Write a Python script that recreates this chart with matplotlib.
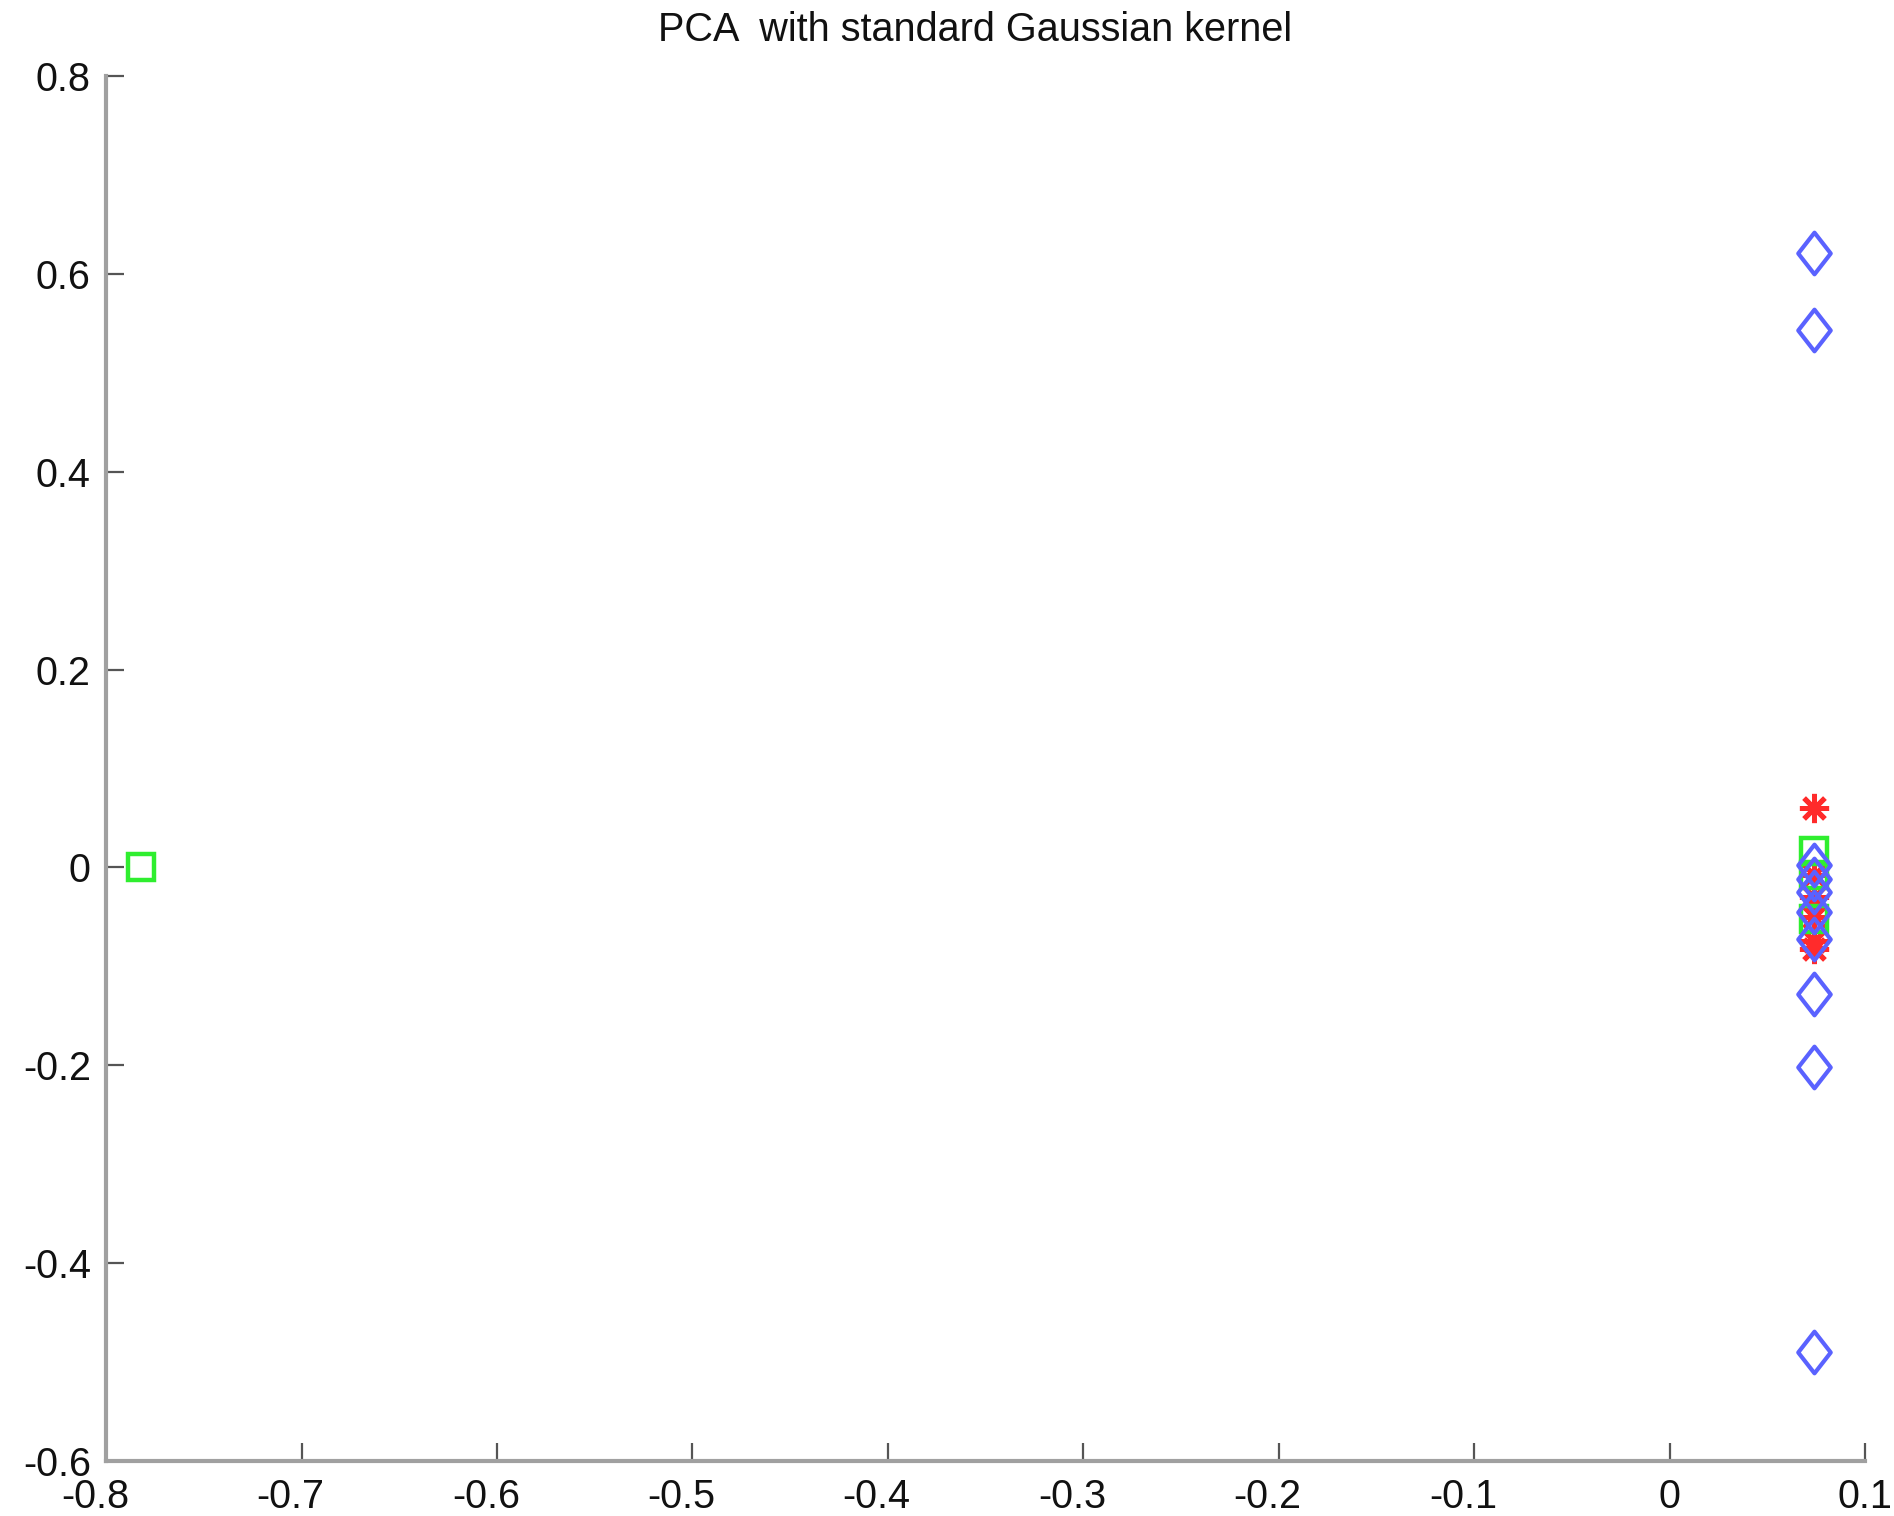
import matplotlib
matplotlib.use("Agg")
import matplotlib.pyplot as plt
import matplotlib.transforms as mtransforms
from matplotlib.path import Path

# Projections onto the first two kernel principal components, by class
diamond_x = [0.0737] * 10
diamond_y = [0.621, 0.543, 0.002, -0.012, -0.025, -0.045, -0.072, -0.128, -0.202, -0.490]

square_x = [-0.782, 0.0737, 0.0737, 0.0737]
square_y = [0.0, 0.017, -0.008, -0.052]

star_x = [0.0737] * 6
star_y = [0.060, -0.008, -0.030, -0.050, -0.074, -0.082]

x_ticks = [-0.8, -0.7, -0.6, -0.5, -0.4, -0.3, -0.2, -0.1, 0, 0.1]
y_ticks = [-0.6, -0.4, -0.2, 0, 0.2, 0.4, 0.6, 0.8]
title = "PCA  with standard Gaussian kernel"

plt.rcParams["font.family"] = ["Liberation Sans", "DejaVu Sans"]
plt.rcParams["axes.unicode_minus"] = False

fig = plt.figure(figsize=(18.94, 15.16), dpi=100)
ax = fig.add_axes([0.056, 0.0363, 0.9287, 0.9136])

# MATLAB-style diamond (narrower than a rotated square)
diamond = Path([(0, 1), (0.78, 0), (0, -1), (-0.78, 0), (0, 1)],
               [Path.MOVETO, Path.LINETO, Path.LINETO, Path.LINETO, Path.CLOSEPOLY])

green = "#2fee2f"
blue = "#5a62ff"
red = "#ff2b2b"

ax.plot(star_x, star_y, linestyle="none", marker=(8, 2, 0), markersize=21,
        markerfacecolor="none", markeredgecolor=red, markeredgewidth=3.6, zorder=2)
ax.plot(square_x, square_y, linestyle="none", marker="s", markersize=19,
        markerfacecolor="none", markeredgecolor=green, markeredgewidth=3.2, zorder=3)
ax.plot(diamond_x, diamond_y, linestyle="none", marker=diamond, markersize=30,
        markerfacecolor="none", markeredgecolor=blue, markeredgewidth=3.0, zorder=4)

ax.set_xlim(-0.8, 0.1)
ax.set_ylim(-0.6, 0.8)
ax.set_xticks(x_ticks)
ax.set_xticklabels([f"{v:g}" for v in x_ticks])
ax.set_yticks(y_ticks)
ax.set_yticklabels([f"{v:g}" for v in y_ticks])

for side in ("top", "right"):
    ax.spines[side].set_visible(False)
for side in ("left", "bottom"):
    ax.spines[side].set_color("#a0a0a0")
    ax.spines[side].set_linewidth(3)

ax.tick_params(axis="both", direction="in", length=13, width=1.6,
               color="#555555", labelsize=28.5, labelcolor="#111111")
ax.tick_params(axis="x", pad=12)
ax.tick_params(axis="y", pad=11)

# Center negative x labels on their digits, leaving the minus sign to the left
shift = mtransforms.ScaledTranslation(-8 / 72, 0, fig.dpi_scale_trans)
for v, lab in zip(x_ticks, ax.get_xticklabels()):
    if v < 0:
        lab.set_transform(lab.get_transform() + shift)

fig.text(0.515, 0.980, title, ha="center", va="center", fontsize=28.5, color="#111111")

fig.savefig("out.png", dpi=100)
